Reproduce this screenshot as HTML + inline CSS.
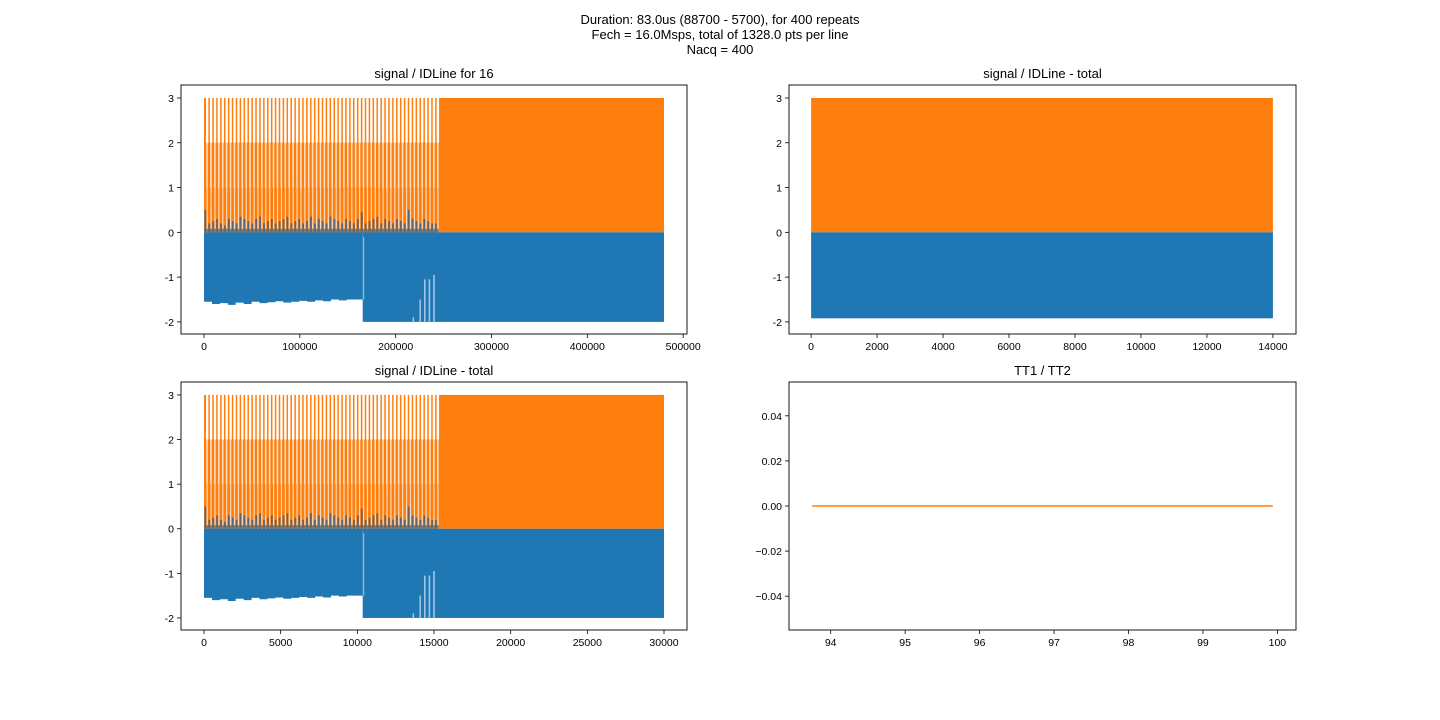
<!DOCTYPE html>
<html><head><meta charset="utf-8"><style>
html,body{margin:0;padding:0;background:#fff}
svg{display:block}
text{font-family:"Liberation Sans","DejaVu Sans",sans-serif;fill:#000}
</style></head><body>
<svg id="fig" width="1440" height="720" viewBox="0 0 1440 720" xmlns="http://www.w3.org/2000/svg">
<text x="720" y="24" text-anchor="middle" font-size="13">Duration: 83.0us (88700 - 5700), for 400 repeats</text>
<text x="720" y="39" text-anchor="middle" font-size="13">Fech = 16.0Msps, total of 1328.0 pts per line</text>
<text x="720" y="54" text-anchor="middle" font-size="13">Nacq = 400</text>
</svg>
<script>
// ---- data ----
const tlXTicks = [0,100000,200000,300000,400000,500000];
const tlYTicks = [-2,-1,0,1,2,3];
const trXTicks = [0,2000,4000,6000,8000,10000,12000,14000];
const blXTicks = [0,5000,10000,15000,20000,25000,30000];
const brXTicks = [94,95,96,97,98,99,100];
const brYTicks = [-0.04,-0.02,0.00,0.02,0.04];
const brYLabels = ["−0.04","−0.02","0.00","0.02","0.04"];
const pulseEndFrac = 0.51;
const dropFrac = 0.345;
const blueMinEarly = [-1.55,-1.6,-1.58,-1.62,-1.57,-1.6,-1.55,-1.58,-1.56,-1.54,-1.57,-1.55,-1.53,-1.55,-1.52,-1.54,-1.5,-1.52,-1.5,-1.5];
const blueLate = -2.0;
const spikeHeights = [0.5,0.2,0.25,0.3,0.2,0.15,0.3,0.25,0.2,0.35,0.3,0.25,0.2,0.3,0.35,0.2,0.25,0.3,0.2,0.25,0.3,0.35,0.2,0.25,0.3,0.2,0.25,0.35,0.2,0.3,0.25,0.2,0.35,0.3,0.25,0.2,0.3,0.25,0.2,0.3,0.45,0.2,0.25,0.3,0.35,0.2,0.3,0.25,0.2,0.3,0.25,0.2,0.5,0.3,0.25,0.2,0.3,0.25,0.2,0.2];
const lightSpikeFrac = [0.455,0.47,0.48,0.49,0.5];
const lightSpikeVal = [-1.9,-1.5,-1.05,-1.05,-0.95];
const orangeHigh = 3.0, orangeLow = 0.0;
const trBlueMin = -1.92;
const brX = [93.75, 99.94];
const brY = [0, 0];

const NS="http://www.w3.org/2000/svg";
const svg=document.getElementById('fig');
function el(tag,attrs,parent){const e=document.createElementNS(NS,tag);for(const k in attrs)e.setAttribute(k,attrs[k]);(parent||svg).appendChild(e);return e;}

function makeAxes(name,L,T,W,H,xmin,xmax,ymin,ymax,title){
  const g=el('g',{});
  
  
  const sx=v=>L+(v-xmin)/(xmax-xmin)*W;
  const sy=v=>T+H-(v-ymin)/(ymax-ymin)*H;
  const t=el('text',{x:L+W/2,y:T-7,'text-anchor':'middle','font-size':13},g);
  t.textContent=title;
  
  
  const clip=el('clipPath',{id:name+'-clip'},g);
  el('rect',{x:L,y:T,width:W,height:H},clip);
  const plot=el('g',{'clip-path':'url(#'+name+'-clip)'},g);
  return {g,plot,sx,sy,L,T,W,H};
}
function frame(ax){
  const r=el('rect',{x:ax.L,y:ax.T,width:ax.W,height:ax.H,fill:'none',stroke:'#000','stroke-width':0.9},ax.g);
  
  
}
function ticks(ax,xt,yt,xl,yl){
  xt.forEach((v,i)=>{const x=ax.sx(v);
    el('line',{x1:x,x2:x,y1:ax.T+ax.H,y2:ax.T+ax.H+4,stroke:'#000','stroke-width':0.8},ax.g);
    const t=el('text',{x:x,y:ax.T+ax.H+16,'text-anchor':'middle','font-size':10.5},ax.g);
    t.textContent=xl?xl[i]:String(v);
    
    });
  yt.forEach((v,i)=>{const y=ax.sy(v);
    el('line',{x1:ax.L-4,x2:ax.L,y1:y,y2:y,stroke:'#000','stroke-width':0.8},ax.g);
    const t=el('text',{x:ax.L-7,y:y+4,'text-anchor':'end','font-size':10.5},ax.g);
    t.textContent=yl?yl[i]:String(v);
    
    });
}
function rect(p,x0,x1,y0,y1,fill,op){
  return el('rect',{x:Math.min(x0,x1),y:Math.min(y0,y1),width:Math.abs(x1-x0),height:Math.abs(y1-y0),fill:fill,'fill-opacity':op==null?1:op},p);
}
const OR='#ff7f0e', BL='#1f77b4';

function drawSignal(ax,xEnd){
  const p=ax.plot;
  const xe=xEnd*pulseEndFrac, xd=xEnd*dropFrac;
  let r=rect(p,ax.sx(xe),ax.sx(xEnd),ax.sy(orangeHigh),ax.sy(orangeLow),OR);
  
  
  r=rect(p,ax.sx(0),ax.sx(xe),ax.sy(orangeHigh),ax.sy(orangeLow),OR);
  
  
  const n=spikeHeights.length;
  for(let i=0;i<n;i++){
    const xv=xe*(i+0.5)/n, x=ax.sx(xv);
    rect(p,x,x+2.4,ax.sy(3),ax.sy(2),'#fff',1);
    rect(p,x+0.3,x+1.9,ax.sy(2),ax.sy(1),'#fff',0.75);
    rect(p,x+0.6,x+1.8,ax.sy(1),ax.sy(0),'#fff',0.7);
    const s=el('rect',{x:x-1.5,y:ax.sy(spikeHeights[i]),width:1.8,height:ax.sy(0)-ax.sy(spikeHeights[i]),fill:'#5d6670'},p);
    
    
  }
  rect(p,ax.sx(0),ax.sx(xe),ax.sy(0.08),ax.sy(0),'#6a6a66',0.8);
  const m=blueMinEarly.length;
  let d='M'+ax.sx(0)+','+ax.sy(0);
  for(let i=0;i<m;i++){
    const x0=ax.sx(xd*i/m), x1=ax.sx(xd*(i+1)/m);
    d+=' L'+x0+','+ax.sy(blueMinEarly[i])+' L'+x1+','+ax.sy(blueMinEarly[i]);
  }
  d+=' L'+ax.sx(xd)+','+ax.sy(0)+' Z';
  const b=el('path',{d:d,fill:BL},p);
  
  
  const b2=rect(p,ax.sx(xd),ax.sx(xEnd),ax.sy(0),ax.sy(blueLate),BL);
  
  
  lightSpikeFrac.forEach((f,i)=>{const x=ax.sx(xEnd*f);
    const l=el('line',{x1:x,x2:x,y1:ax.sy(blueLate),y2:ax.sy(lightSpikeVal[i]),stroke:'#a8c8e8','stroke-width':1.5},p);
    
    });
  const dx=ax.sx(xd)+1;
  el('line',{x1:dx,x2:dx,y1:ax.sy(-0.1),y2:ax.sy(-1.5),stroke:'#a8c8e8','stroke-width':1},p);
}

const tl=makeAxes('top-left-axes',181,85,506,249,-24000,504000,-2.27,3.29,'signal / IDLine for 16');
drawSignal(tl,480000);
frame(tl); ticks(tl,tlXTicks,tlYTicks);

const tr=makeAxes('top-right-axes',789,85,507,249,-670,14700,-2.27,3.29,'signal / IDLine - total');
let r1=rect(tr.plot,tr.sx(0),tr.sx(14000),tr.sy(3),tr.sy(0),OR);


let r2=rect(tr.plot,tr.sx(0),tr.sx(14000),tr.sy(0),tr.sy(trBlueMin),BL);


frame(tr); ticks(tr,trXTicks,tlYTicks);

const bl=makeAxes('bottom-left-axes',181,382,506,248,-1500,31500,-2.27,3.29,'signal / IDLine - total');
drawSignal(bl,30000);
frame(bl); ticks(bl,blXTicks,tlYTicks);

const br=makeAxes('bottom-right-axes',789,382,507,248,93.44,100.25,-0.055,0.055,'TT1 / TT2');
const ln=el('polyline',{points:brX.map((v,i)=>br.sx(v)+','+br.sy(brY[i])).join(' '),fill:'none',stroke:OR,'stroke-width':1.5},br.plot);


frame(br); ticks(br,brXTicks,brYTicks,null,brYLabels);
</script>
</body></html>
